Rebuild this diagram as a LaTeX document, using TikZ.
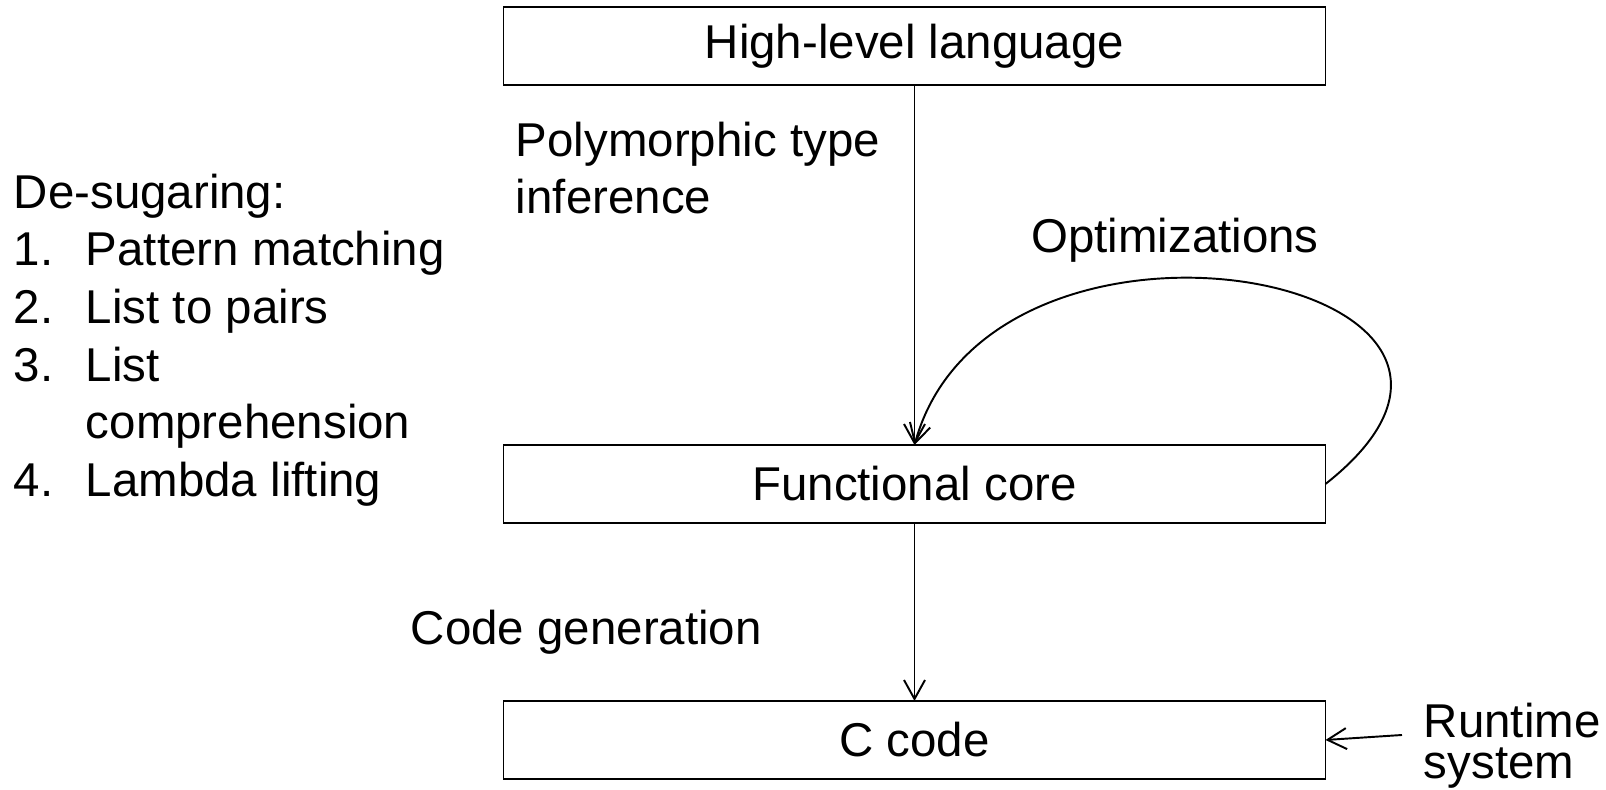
\documentclass[tikz,border=0pt]{standalone}
\usepackage{fontspec}
\setmainfont{Liberation Sans}
\usepackage{tikz}
\usetikzlibrary{positioning,arrows.meta}
\newcommand{\listno}[1]{\makebox[1.44cm][l]{#1}}

\begin{document}
\begin{tikzpicture}[font=\fontsize{27}{32.8}\selectfont, line width=1.1pt,
    stage/.style={draw, minimum width=16.44cm, minimum height=1.56cm, outer sep=0pt},
    note/.style={inner sep=0pt, align=left},
    flow/.style={-{Straight Barb[length=0.38cm, width=0.42cm]}}]
    \useasboundingbox (0,0) rectangle (32.12,15.8);
    \node[stage] (hll) at (18.29,14.88) {High-level language};
    \node[stage, below=7.2cm of hll] (core) {Functional core};
    \node[stage, below=3.56cm of core] (ccode) {C code};
    \node[note, anchor=north west] (infer) at (10.3,13.38) {Polymorphic type\\inference};
    \node[note, anchor=north west] (sugar) at (0.26,12.34) {De-sugaring:\\\listno{1.}Pattern matching\\\listno{2.}List to pairs\\\listno{3.}List\\\listno{}comprehension\\\listno{4.}Lambda lifting};
    \node[note, anchor=base] (opt) at (23.5,10.74) {Optimizations};
    \node[note, anchor=base west] (cgen) at (8.2,2.9) {Code generation};
    \node[note, anchor=north west, font=\fontsize{27}{23.6}\selectfont] (rts) at (28.46,1.76) {Runtime\\system};
    \coordinate (rtsin) at (28.04,1.1);
    \draw[flow] (hll) -- (core);
    \draw[flow] (core) -- (ccode);
    \draw[flow] (core.east) .. controls +(5.2,4.1) and +(1.55,5.6) .. (core.north);
    \draw[flow] (rtsin) -- (ccode.east);
  \end{tikzpicture}
\end{document}
